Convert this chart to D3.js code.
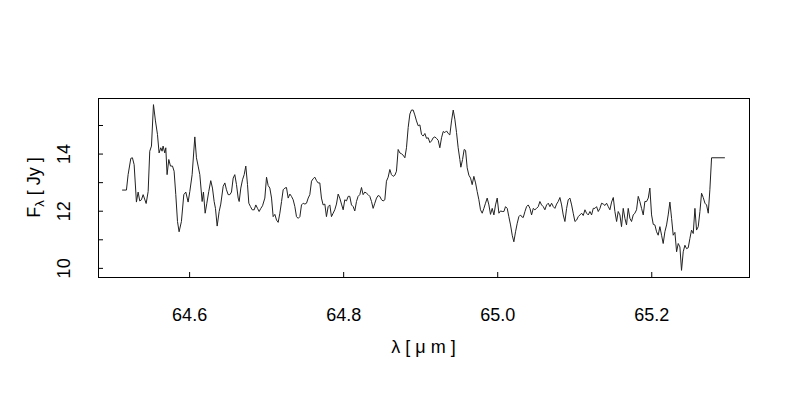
<!DOCTYPE html>
<html>
<head>
<meta charset="utf-8">
<script src="https://cdn.jsdelivr.net/npm/d3@7"></script>
<style>
  body { margin: 0; background: #fff; }
  svg { display: block; font-family: "Liberation Sans", Arial, sans-serif; }
</style>
</head>
<body>
<svg id="chart" width="800" height="400"></svg>
<script>
// tick positions / labels
const xTicks = [64.6, 64.8, 65.0, 65.2];
const yTicks = [10, 11, 12, 13, 14, 15];
const yTickLabels = [10, 12, 14];

// spectrum: [wavelength (um), flux (Jy)]
const spectrum = [
  [64.5130, 12.74], [64.5186, 12.74], [64.5208, 13.28], [64.5243, 13.85], [64.5264, 13.87],
  [64.5286, 13.63], [64.5316, 12.32], [64.5338, 12.67], [64.5359, 12.36], [64.5381, 12.40],
  [64.5403, 12.58], [64.5442, 12.27], [64.5468, 12.69], [64.5489, 14.10], [64.5511, 14.28],
  [64.5537, 15.73], [64.5563, 15.16], [64.5589, 14.69], [64.5610, 14.04], [64.5632, 14.22],
  [64.5649, 14.10], [64.5662, 14.28], [64.5684, 14.04], [64.5697, 14.22], [64.5714, 13.28],
  [64.5736, 13.81], [64.5758, 13.58], [64.5784, 13.58], [64.5805, 13.40], [64.5827, 12.58],
  [64.5849, 11.64], [64.5870, 11.28], [64.5900, 11.64], [64.5931, 12.58], [64.5957, 12.67],
  [64.5987, 12.32], [64.6009, 12.69], [64.6039, 13.28], [64.6074, 14.60], [64.6095, 13.87],
  [64.6117, 13.58], [64.6139, 13.28], [64.6169, 12.34], [64.6186, 12.67], [64.6208, 11.93],
  [64.6230, 12.28], [64.6255, 12.69], [64.6281, 13.07], [64.6303, 12.81], [64.6325, 12.34],
  [64.6342, 12.10], [64.6364, 11.48], [64.6390, 11.99], [64.6411, 12.25],
  [64.6442, 12.87], [64.6464, 12.99], [64.6485, 12.75], [64.6507, 12.58], [64.6529, 12.58],
  [64.6550, 12.67], [64.6572, 13.16], [64.6593, 13.28], [64.6615, 12.93], [64.6637, 12.46],
  [64.6650, 12.34], [64.6671, 12.81], [64.6693, 13.10], [64.6715, 13.28], [64.6736, 13.58],
  [64.6758, 12.93], [64.6775, 12.28], [64.6797, 12.16], [64.6819, 12.05], [64.6845, 12.05],
  [64.6866, 12.22], [64.6888, 12.10], [64.6909, 11.99], [64.6931, 12.10], [64.6953, 12.19],
  [64.6983, 12.46], [64.7005, 13.19], [64.7026, 12.90], [64.7048, 12.81], [64.7070, 12.46],
  [64.7091, 11.81], [64.7113, 11.89], [64.7135, 11.69], [64.7156, 11.61], [64.7178, 11.93],
  [64.7200, 12.34], [64.7221, 12.75], [64.7243, 12.81], [64.7264, 12.83], [64.7286, 12.46],
  [64.7308, 12.60], [64.7329, 12.52], [64.7351, 12.40], [64.7373, 12.16], [64.7394, 11.81],
  [64.7416, 11.75], [64.7438, 11.81], [64.7459, 12.22], [64.7481, 12.28], [64.7503, 12.25],
  [64.7524, 12.28], [64.7546, 12.46], [64.7567, 12.58], [64.7589, 13.05], [64.7611, 13.14],
  [64.7632, 13.19], [64.7654, 13.07], [64.7675, 12.99], [64.7697, 12.99],
  [64.7718, 12.46], [64.7740, 12.22], [64.7762, 12.25], [64.7783, 11.81], [64.7805, 12.16],
  [64.7827, 12.22], [64.7848, 11.81], [64.7870, 11.93], [64.7891, 12.05], [64.7913, 12.25],
  [64.7935, 12.60], [64.7956, 12.46], [64.7978, 12.25], [64.8000, 12.05], [64.8021, 12.40],
  [64.8043, 12.36], [64.8065, 12.52], [64.8086, 12.52], [64.8108, 12.22], [64.8130, 12.16],
  [64.8151, 12.01], [64.8173, 12.34], [64.8194, 12.52], [64.8216, 12.58], [64.8238, 12.83],
  [64.8259, 12.58], [64.8281, 12.67], [64.8303, 12.63], [64.8324, 12.58], [64.8346, 12.52],
  [64.8368, 12.34], [64.8389, 12.10], [64.8411, 12.28], [64.8433, 12.46], [64.8454, 12.55],
  [64.8476, 12.52], [64.8498, 12.40], [64.8519, 12.36], [64.8541, 12.40], [64.8562, 13.05],
  [64.8584, 13.19], [64.8606, 13.46], [64.8627, 13.28], [64.8649, 13.22], [64.8671, 13.26],
  [64.8692, 13.40], [64.8714, 14.16], [64.8736, 14.04], [64.8757, 14.01], [64.8779, 13.96],
  [64.8801, 13.87], [64.8822, 14.22], [64.8844, 14.93], [64.8866, 15.40], [64.8887, 15.54],
  [64.8909, 15.54], [64.8930, 15.37], [64.8952, 15.16],
  [64.8974, 14.99], [64.8996, 15.02], [64.9017, 14.69], [64.9039, 14.63], [64.9061, 14.72],
  [64.9082, 14.55], [64.9104, 14.57], [64.9126, 14.40], [64.9147, 14.46], [64.9169, 14.57],
  [64.9190, 14.60], [64.9212, 14.55], [64.9234, 14.48], [64.9255, 14.22], [64.9277, 14.57],
  [64.9299, 14.79], [64.9320, 14.75], [64.9342, 14.81], [64.9364, 14.72], [64.9385, 14.67],
  [64.9407, 15.16], [64.9429, 15.54], [64.9450, 15.22], [64.9472, 14.75], [64.9493, 14.22],
  [64.9515, 13.81], [64.9528, 13.54], [64.9550, 13.81], [64.9571, 14.16], [64.9589, 14.13],
  [64.9610, 13.52], [64.9632, 13.26], [64.9654, 13.16], [64.9675, 12.93], [64.9697, 13.22],
  [64.9719, 12.99], [64.9740, 12.69], [64.9762, 12.40], [64.9783, 12.05], [64.9805, 11.93],
  [64.9827, 12.10], [64.9848, 12.28], [64.9870, 12.46], [64.9892, 12.22], [64.9913, 11.89],
  [64.9935, 12.10], [64.9957, 11.87], [64.9978, 12.22], [65.0000, 12.46], [65.0022, 11.93],
  [65.0043, 12.01], [65.0065, 11.99], [65.0087, 11.99], [65.0108, 12.16], [65.0130, 12.10],
  [65.0151, 11.81], [65.0173, 11.52], [65.0195, 11.16], [65.0216, 10.93], [65.0238, 11.28],
  [65.0260, 11.58], [65.0281, 11.81], [65.0303, 11.87],
  [65.0316, 11.81], [65.0338, 11.78], [65.0360, 11.99], [65.0381, 12.16], [65.0403, 12.22],
  [65.0425, 12.10], [65.0446, 11.87], [65.0468, 12.10], [65.0489, 12.05], [65.0511, 12.10],
  [65.0533, 12.16], [65.0554, 12.34], [65.0576, 12.22], [65.0598, 12.16], [65.0619, 12.05],
  [65.0641, 12.22], [65.0663, 12.28], [65.0684, 12.16], [65.0706, 12.28], [65.0728, 12.16],
  [65.0749, 12.10], [65.0771, 12.25], [65.0792, 12.34], [65.0814, 12.48], [65.0836, 12.22],
  [65.0857, 11.87], [65.0879, 11.64], [65.0901, 12.10], [65.0922, 12.40], [65.0944, 12.46],
  [65.0966, 12.22], [65.0987, 11.93], [65.1009, 11.64], [65.1031, 11.69], [65.1052, 11.81],
  [65.1074, 11.87], [65.1096, 11.93], [65.1117, 11.85], [65.1139, 12.05], [65.1160, 11.93],
  [65.1182, 11.87], [65.1204, 11.99], [65.1225, 11.87], [65.1247, 12.10], [65.1269, 12.10],
  [65.1290, 12.16], [65.1312, 11.99], [65.1334, 12.10], [65.1355, 12.28], [65.1377, 12.25],
  [65.1399, 12.20], [65.1420, 12.28], [65.1442, 12.16], [65.1463, 12.05], [65.1485, 12.32],
  [65.1507, 12.48], [65.1528, 11.99], [65.1550, 11.64],
  [65.1571, 11.99], [65.1593, 11.87], [65.1614, 11.46], [65.1636, 12.10], [65.1658, 11.75],
  [65.1679, 11.52], [65.1701, 12.10], [65.1723, 11.75], [65.1744, 11.64], [65.1766, 11.87],
  [65.1787, 11.93], [65.1809, 12.05], [65.1831, 12.52], [65.1852, 12.34], [65.1874, 12.10],
  [65.1896, 11.87], [65.1917, 12.34], [65.1939, 12.34], [65.1961, 12.46], [65.1982, 12.81],
  [65.2004, 11.87], [65.2026, 11.54], [65.2047, 11.52], [65.2069, 11.28], [65.2090, 11.16],
  [65.2112, 11.46], [65.2134, 11.16], [65.2155, 10.87], [65.2177, 11.28], [65.2199, 11.52],
  [65.2220, 11.87], [65.2242, 12.32], [65.2264, 11.75], [65.2285, 11.16], [65.2307, 11.26],
  [65.2329, 10.58], [65.2350, 10.87], [65.2372, 10.75], [65.2393, 9.93], [65.2415, 10.58],
  [65.2437, 10.81], [65.2458, 10.69], [65.2480, 10.72], [65.2502, 11.05], [65.2523, 11.34],
  [65.2545, 11.22], [65.2567, 12.10], [65.2588, 11.34], [65.2610, 11.46], [65.2632, 11.99],
  [65.2653, 12.63], [65.2675, 12.48], [65.2697, 12.28], [65.2718, 12.22], [65.2740, 11.93],
  [65.2761, 12.75], [65.2783, 13.87], [65.2956, 13.87]
];

const box = { left: 98, right: 749, top: 98, bottom: 277 };
const fontSize = 18;

// R-style axis range: data extent padded by 4% on each side
function padded(ext) {
  const pad = (ext[1] - ext[0]) * 0.04;
  return [ext[0] - pad, ext[1] + pad];
}

const x = d3.scaleLinear()
  .domain(padded(d3.extent(spectrum, d => d[0])))
  .range([box.left, box.right]);

const y = d3.scaleLinear()
  .domain(padded(d3.extent(spectrum, d => d[1])))
  .range([box.bottom, box.top]);

const svg = d3.select("#chart");

// spectrum line
svg.append("path")
  .datum(spectrum)
  .attr("fill", "none")
  .attr("stroke", "#222")
  .attr("stroke-width", 1)
  .attr("stroke-linejoin", "round")
  .attr("d", d3.line().x(d => x(d[0])).y(d => y(d[1])));

// x axis, ticks pointing inward
const xAxis = svg.append("g")
  .attr("transform", `translate(0,${box.bottom})`)
  .call(d3.axisBottom(x)
    .tickValues(xTicks)
    .tickFormat(d3.format(".1f"))
    .tickSizeInner(-5)
    .tickSizeOuter(0)
    .tickPadding(31));
xAxis.select(".domain").remove();
xAxis.selectAll("line").attr("stroke", "#000");
xAxis.selectAll("text")
  .attr("font-size", fontSize)
  .attr("font-family", "Liberation Sans, Arial, sans-serif")
  .attr("fill", "#000");

// y axis, only even values labelled, labels rotated like R's default
const yAxis = svg.append("g")
  .attr("transform", `translate(${box.left},0)`)
  .call(d3.axisLeft(y)
    .tickValues(yTicks)
    .tickFormat(d => yTickLabels.includes(d) ? d : "")
    .tickSizeInner(-5)
    .tickSizeOuter(0));
yAxis.select(".domain").remove();
yAxis.selectAll("line").attr("stroke", "#000");
yAxis.selectAll("text")
  .attr("font-size", fontSize)
  .attr("font-family", "Liberation Sans, Arial, sans-serif")
  .attr("fill", "#000")
  .attr("x", null)
  .attr("dy", null)
  .attr("text-anchor", "middle")
  .attr("transform", d => `translate(${70 - box.left},${y(d)}) rotate(-90)`);
yAxis.selectAll(".tick").attr("transform", "translate(0,0)");
yAxis.selectAll(".tick line").attr("transform", d => `translate(0,${y(d)})`);

// plot box
svg.append("rect")
  .attr("x", box.left + 0.5)
  .attr("y", box.top + 0.5)
  .attr("width", box.right - box.left)
  .attr("height", box.bottom - box.top)
  .attr("fill", "none")
  .attr("stroke", "#000")
  .attr("stroke-width", 1);

// axis titles
svg.append("text")
  .attr("x", (box.left + box.right) / 2)
  .attr("y", 353)
  .attr("text-anchor", "middle")
  .attr("font-size", fontSize)
  .text("λ [ μ m ]");

const yTitle = svg.append("text")
  .attr("transform", `translate(40,${(box.top + box.bottom) / 2}) rotate(-90)`)
  .attr("text-anchor", "middle")
  .attr("font-size", fontSize);
yTitle.append("tspan").text("F");
yTitle.append("tspan").attr("font-size", 13).attr("dy", 4).text("λ");
yTitle.append("tspan").attr("dy", -4).text(" [ Jy ]");
</script>
</body>
</html>
